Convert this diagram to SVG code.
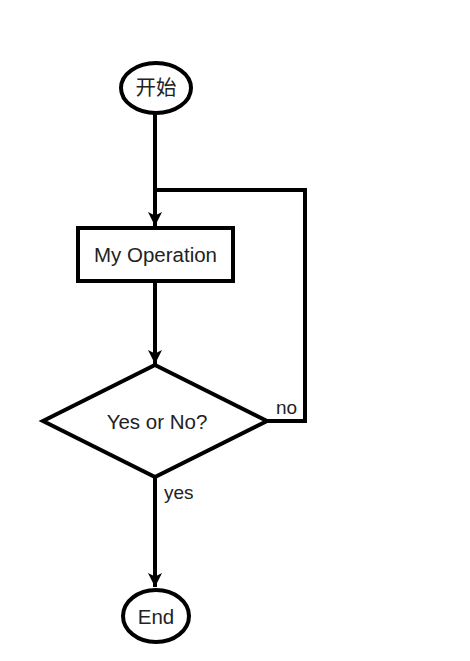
<svg xmlns="http://www.w3.org/2000/svg" width="470" height="661" viewBox="0 0 470 661">
<defs>
<style>
.shape{fill:#fff;stroke:#000;stroke-width:4}
.edge{fill:none;stroke:#000;stroke-width:4}
.t{font-family:"Liberation Sans",Arial,"Noto Sans CJK SC",sans-serif;font-size:20.5px;fill:#222;text-anchor:middle}
.lbl{font-family:"Liberation Sans",Arial,sans-serif;font-size:19px;fill:#222}
</style>
<marker id="arr" viewBox="0 0 10 10" refX="10" refY="5" markerWidth="3.5" markerHeight="3.5" orient="auto" markerUnits="strokeWidth">
<path d="M0,0 L10,5 L0,10 L2.5,5 z" fill="#000"/>
</marker>
</defs>
<rect width="470" height="661" fill="#fff"/>
<g id="connectors">
<path class="edge" d="M155,114 V226" marker-end="url(#arr)"/>
<path class="edge" d="M155,282 V364" marker-end="url(#arr)"/>
<path class="edge" d="M266,421 H305 V190 H155"/>
<path class="edge" d="M155,477 V587" marker-end="url(#arr)"/>
<text class="lbl" x="276" y="414">no</text>
<text class="lbl" x="164" y="499">yes</text>
</g>
<g id="start">
<ellipse class="shape" cx="156" cy="88" rx="35" ry="25"/>
<text class="t" x="156" y="95">开始</text>
</g>
<g id="operation">
<rect class="shape" x="78" y="228" width="155" height="53"/>
<text class="t" x="155.5" y="262">My Operation</text>
</g>
<g id="decision">
<polygon class="shape" points="155,365 267,421 155,477 43,421"/>
<text class="t" x="157" y="429">Yes or No?</text>
</g>
<g id="end">
<ellipse class="shape" cx="156" cy="616" rx="33" ry="26"/>
<text class="t" x="156" y="624">End</text>
</g>
</svg>
